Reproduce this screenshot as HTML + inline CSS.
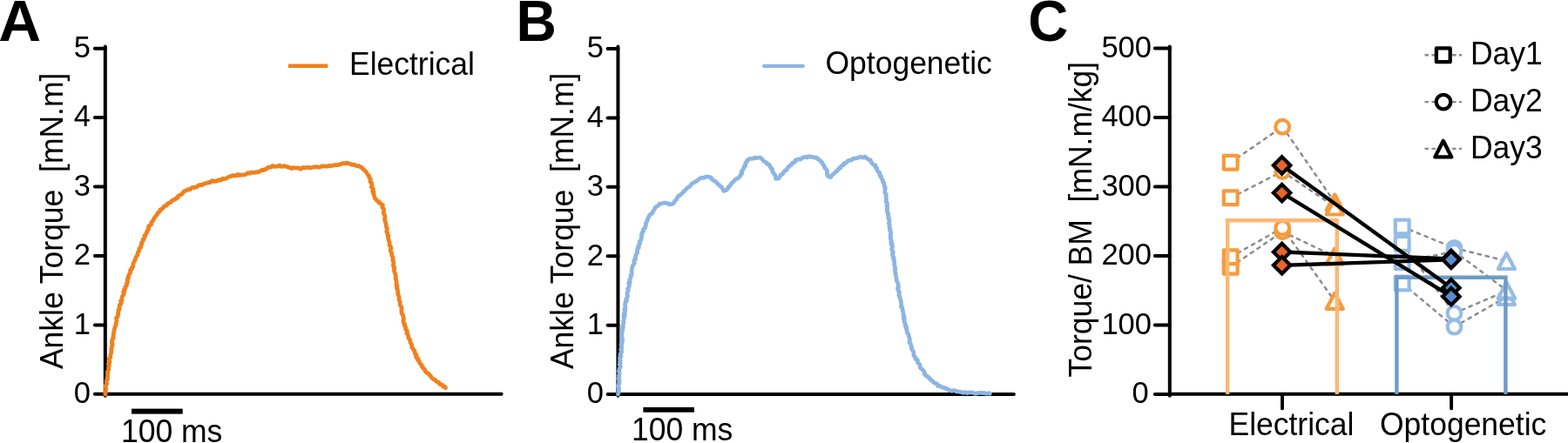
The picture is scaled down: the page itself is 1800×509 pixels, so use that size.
<!DOCTYPE html>
<html><head><meta charset="utf-8"><title>Figure</title>
<style>html,body{margin:0;padding:0;background:#fff;width:1800px;height:509px;overflow:hidden}svg{display:block}</style>
</head><body>
<svg width="1800" height="509" viewBox="0 0 1800 509" font-family='"Liberation Sans", Arial, Helvetica, sans-serif'>
<rect width="1800" height="509" fill="#fff"/>
<text transform="translate(-1.7,47.4) scale(1.01,1.0)" font-size="67" font-weight="bold" xml:space="preserve">A</text>
<text transform="translate(592.4,47.2) scale(0.959,1.0)" font-size="67" font-weight="bold" xml:space="preserve">B</text>
<text transform="translate(1180.3,47.4) scale(0.951,1.0)" font-size="67" font-weight="bold" xml:space="preserve">C</text>
<line x1="120.8" y1="53.6" x2="120.8" y2="454.7" stroke="#000" stroke-width="4.0" stroke-linecap="round"/>
<line x1="108.9" y1="452.80" x2="120.8" y2="452.80" stroke="#000" stroke-width="4.0" stroke-linecap="round"/>
<text x="103.9" y="463.0" font-size="34.5" text-anchor="end">0</text>
<line x1="108.9" y1="373.38" x2="120.8" y2="373.38" stroke="#000" stroke-width="4.0" stroke-linecap="round"/>
<text x="103.9" y="383.6" font-size="34.5" text-anchor="end">1</text>
<line x1="108.9" y1="293.96" x2="120.8" y2="293.96" stroke="#000" stroke-width="4.0" stroke-linecap="round"/>
<text x="103.9" y="304.2" font-size="34.5" text-anchor="end">2</text>
<line x1="108.9" y1="214.54" x2="120.8" y2="214.54" stroke="#000" stroke-width="4.0" stroke-linecap="round"/>
<text x="103.9" y="224.7" font-size="34.5" text-anchor="end">3</text>
<line x1="108.9" y1="135.12" x2="120.8" y2="135.12" stroke="#000" stroke-width="4.0" stroke-linecap="round"/>
<text x="103.9" y="145.3" font-size="34.5" text-anchor="end">4</text>
<line x1="108.9" y1="55.70" x2="120.8" y2="55.70" stroke="#000" stroke-width="4.0" stroke-linecap="round"/>
<text x="103.9" y="65.9" font-size="34.5" text-anchor="end">5</text>
<line x1="120.8" y1="452.8" x2="575.6" y2="452.8" stroke="#000" stroke-width="4.0" stroke-linecap="round"/>
<rect x="151" y="469.6" width="58.7" height="6" fill="#000"/>
<text transform="translate(139,507.6) scale(1.0,1.044)" font-size="35.5" xml:space="preserve">100 ms</text>
<line x1="331" y1="75.8" x2="376.3" y2="75.8" stroke="#F0801E" stroke-width="4.6"/>
<text transform="translate(401,85.9) scale(1.0,1.044)" font-size="35.5" xml:space="preserve">Electrical</text>
<text transform="translate(72.2,253.9) rotate(-90) scale(1.0,1.044)" font-size="35.5" text-anchor="middle" xml:space="preserve">Ankle Torque  [mN.m]</text>
<path d="M121.0,453.0 L120.7,452.0 L121.3,450.9 L121.1,449.6 L121.7,448.1 L121.9,446.5 L121.1,444.6 L121.3,442.8 L122.8,441.1 L122.0,439.2 L122.2,437.3 L123.6,435.7 L123.0,433.9 L123.7,432.4 L123.4,430.7 L123.8,429.1 L123.3,427.4 L124.3,425.9 L124.9,424.5 L124.6,422.8 L125.1,421.3 L125.3,419.8 L124.5,418.1 L125.9,416.8 L125.8,415.2 L125.6,413.6 L125.4,411.9 L126.9,410.5 L126.5,408.9 L127.1,407.3 L127.6,405.8 L127.6,404.1 L128.1,402.6 L127.5,400.9 L128.4,399.5 L128.1,397.9 L129.1,396.5 L129.2,395.0 L128.2,393.1 L128.6,391.4 L129.0,389.7 L130.4,388.3 L129.9,386.5 L130.4,384.9 L130.2,383.3 L130.8,381.8 L130.9,380.3 L131.1,378.8 L131.7,377.2 L132.0,375.7 L132.8,374.3 L132.7,372.8 L133.4,371.4 L133.5,369.9 L134.0,368.6 L133.8,367.0 L133.4,365.4 L134.8,364.1 L135.3,362.7 L135.6,361.2 L135.5,359.6 L136.1,358.1 L135.7,356.4 L137.1,355.2 L137.1,353.6 L137.1,352.0 L137.2,350.4 L138.8,349.3 L139.4,347.9 L138.5,346.0 L140.1,344.8 L139.9,343.1 L140.0,341.5 L140.6,340.1 L141.8,338.8 L142.4,337.4 L141.6,335.5 L142.9,334.2 L142.5,332.5 L144.0,331.3 L143.8,329.6 L145.1,328.4 L145.7,327.0 L145.4,325.3 L146.7,324.0 L146.1,322.1 L146.3,320.4 L147.6,319.2 L147.2,317.4 L148.0,315.9 L148.8,314.5 L149.7,313.1 L149.5,311.5 L149.7,310.1 L151.4,309.2 L151.1,307.6 L152.5,306.6 L152.9,305.1 L152.7,303.4 L153.4,301.9 L154.1,300.3 L154.9,299.1 L155.4,297.6 L156.0,296.1 L156.7,294.6 L157.9,293.3 L157.9,291.4 L158.5,289.8 L159.6,288.4 L159.6,286.5 L160.3,285.1 L161.9,284.1 L161.8,282.5 L162.6,280.9 L162.4,279.0 L163.6,277.8 L164.4,276.5 L164.2,274.8 L165.6,273.8 L166.2,272.5 L165.9,270.8 L167.3,269.9 L167.7,268.3 L168.7,267.0 L168.8,265.3 L170.0,264.2 L170.7,262.8 L170.3,260.9 L171.1,259.6 L172.6,258.7 L173.9,257.5 L173.7,255.5 L174.9,254.3 L176.0,253.0 L176.5,251.4 L177.5,250.1 L178.4,248.7 L179.4,247.5 L180.6,246.3 L181.2,244.7 L182.3,243.5 L183.8,242.7 L184.0,240.7 L185.7,240.2 L187.1,239.2 L188.0,237.6 L189.2,236.5 L191.1,236.3 L192.0,234.6 L193.3,233.5 L194.8,232.9 L196.2,232.4 L197.0,230.8 L198.4,230.2 L199.7,229.3 L201.4,229.1 L202.3,227.6 L204.0,227.2 L204.6,225.3 L206.0,224.4 L207.6,223.7 L209.1,222.9 L209.9,221.4 L211.0,220.2 L212.4,219.2 L214.1,218.9 L215.3,217.7 L217.2,217.9 L218.7,217.3 L219.9,215.7 L221.4,215.3 L223.2,215.6 L224.6,214.9 L226.2,214.6 L227.5,213.4 L229.0,212.6 L230.6,212.4 L232.4,212.6 L233.6,211.3 L235.2,210.9 L236.7,210.5 L238.2,209.9 L239.7,209.4 L241.5,209.7 L242.7,208.1 L244.2,207.5 L246.2,208.6 L247.7,208.1 L249.3,207.9 L250.6,206.7 L252.1,207.2 L254.0,206.7 L255.4,205.2 L257.2,205.6 L259.0,205.2 L260.2,204.6 L261.4,204.0 L262.6,203.2 L264.0,202.8 L265.6,202.2 L267.5,201.5 L268.9,202.1 L270.3,201.3 L271.9,201.9 L273.3,200.4 L275.2,201.5 L276.8,200.9 L278.6,201.0 L280.3,200.7 L281.9,200.4 L283.3,199.6 L284.8,198.5 L286.7,199.3 L288.2,198.2 L289.9,198.1 L291.6,198.4 L293.1,198.0 L294.6,197.5 L296.2,198.0 L297.4,197.2 L299.2,196.2 L300.8,195.4 L302.8,195.7 L304.0,194.5 L305.6,194.3 L306.8,193.1 L308.3,192.2 L310.0,192.1 L311.6,191.9 L312.8,190.5 L314.8,191.2 L316.1,191.3 L317.6,191.1 L319.1,191.1 L320.8,189.9 L322.3,191.0 L324.0,191.6 L325.8,190.5 L327.3,191.1 L328.8,191.4 L330.3,192.1 L331.9,192.4 L333.5,192.8 L335.0,193.6 L336.8,192.6 L338.3,192.9 L339.9,193.1 L341.4,193.0 L342.9,192.8 L344.6,194.2 L346.1,193.8 L347.6,192.4 L349.3,192.9 L350.9,192.5 L352.4,192.4 L354.0,192.4 L355.6,192.8 L357.2,192.6 L358.9,192.2 L360.4,191.8 L362.0,191.9 L363.5,191.5 L365.0,192.1 L366.8,192.2 L368.3,191.5 L369.8,190.8 L371.3,190.8 L372.8,190.9 L374.4,191.1 L376.1,191.1 L377.5,190.3 L379.2,190.8 L380.8,190.4 L382.5,189.9 L384.1,189.6 L385.7,189.6 L387.3,189.7 L388.6,189.1 L390.5,189.1 L391.9,188.3 L393.2,187.6 L394.8,187.7 L396.5,187.9 L398.1,187.0 L399.8,187.8 L401.6,188.0 L403.3,189.1 L405.0,189.5 L406.9,189.0 L408.1,190.2 L410.2,190.7 L412.2,190.7 L413.6,191.9 L415.3,192.3 L416.2,194.0 L417.6,194.6 L418.5,195.8 L419.7,196.9 L420.7,198.0 L421.4,199.5 L422.4,200.9 L423.8,202.3 L423.8,204.2 L425.2,205.4 L425.4,206.9 L424.9,208.7 L426.4,210.0 L426.7,211.5 L427.1,213.0 L426.3,214.9 L427.8,216.1 L428.5,217.6 L427.6,219.5 L429.2,220.6 L428.5,222.3 L429.4,224.0 L429.7,225.8 L430.2,227.4 L431.5,228.6 L432.4,230.6 L434.7,231.3 L435.2,233.5 L437.1,233.7 L438.2,235.0 L439.5,235.6 L438.9,237.2 L438.9,238.7 L440.6,240.1 L440.5,242.0 L440.4,243.8 L440.2,245.3 L441.4,246.6 L441.8,248.2 L441.9,249.9 L441.6,251.6 L441.6,253.3 L442.5,254.9 L442.8,256.5 L443.1,258.1 L443.4,259.7 L443.6,261.3 L444.5,262.8 L444.1,264.5 L443.7,266.3 L444.9,267.7 L444.7,269.4 L446.0,270.8 L445.4,272.5 L445.7,274.1 L446.1,275.7 L446.7,277.2 L447.1,278.8 L447.2,280.5 L447.1,282.1 L448.6,283.5 L449.0,285.1 L448.3,286.9 L448.3,288.6 L449.3,290.0 L449.7,291.6 L449.6,293.3 L450.7,294.7 L450.9,296.3 L451.2,297.7 L450.9,299.3 L451.6,300.7 L452.0,302.1 L451.6,303.8 L451.4,305.4 L452.7,306.9 L452.3,308.5 L452.9,309.8 L452.4,311.4 L453.1,312.9 L453.8,314.4 L454.0,316.0 L454.6,317.5 L454.1,319.2 L454.4,320.8 L455.0,322.3 L455.0,324.0 L455.3,325.5 L454.9,327.3 L456.2,328.7 L455.2,330.6 L456.3,332.1 L456.4,333.8 L456.9,335.3 L456.7,337.1 L457.0,338.7 L457.7,340.2 L458.2,341.8 L458.1,343.5 L458.2,345.2 L459.3,346.6 L459.1,348.3 L459.1,350.0 L460.2,351.5 L460.9,353.0 L461.2,354.6 L460.7,356.2 L461.1,357.7 L460.9,359.2 L461.3,360.7 L462.6,362.0 L462.9,363.4 L463.1,364.9 L463.5,366.4 L463.0,368.0 L463.1,369.6 L463.4,371.1 L464.7,372.3 L464.2,374.0 L465.4,375.2 L465.7,376.8 L465.6,378.4 L467.0,379.5 L467.5,381.0 L466.8,382.8 L468.1,384.1 L468.5,385.6 L468.7,387.1 L469.1,388.7 L470.6,389.8 L470.7,391.5 L471.1,393.1 L471.7,394.6 L472.7,396.0 L472.7,397.7 L472.8,399.4 L474.3,400.5 L474.6,402.0 L475.9,403.1 L476.3,404.7 L476.5,406.5 L478.0,407.7 L477.5,409.7 L478.2,411.1 L480.1,411.9 L479.6,413.9 L481.2,414.8 L481.4,416.5 L482.3,417.9 L483.8,418.8 L484.1,420.5 L485.1,421.8 L485.8,423.2 L487.4,423.9 L487.7,425.6 L488.4,427.0 L489.7,427.8 L491.0,429.0 L492.7,429.8 L493.4,431.4 L494.7,432.4 L495.4,433.9 L496.7,434.9 L497.9,435.8 L499.7,436.4 L500.7,438.1 L502.1,439.0 L503.9,439.4 L504.6,441.2 L506.0,441.7 L508.1,442.3 L508.9,444.5 L510.9,444.4 L511.5,445.6" fill="none" stroke="#F0801E" stroke-width="4.7" stroke-linejoin="round" stroke-linecap="round"/>
<line x1="709.45" y1="53.6" x2="709.45" y2="454.7" stroke="#000" stroke-width="4.0" stroke-linecap="round"/>
<line x1="697.6" y1="453.10" x2="709.45" y2="453.10" stroke="#000" stroke-width="4.0" stroke-linecap="round"/>
<text x="692.9" y="463.3" font-size="34.5" text-anchor="end">0</text>
<line x1="697.6" y1="373.69" x2="709.45" y2="373.69" stroke="#000" stroke-width="4.0" stroke-linecap="round"/>
<text x="692.9" y="383.9" font-size="34.5" text-anchor="end">1</text>
<line x1="697.6" y1="294.28" x2="709.45" y2="294.28" stroke="#000" stroke-width="4.0" stroke-linecap="round"/>
<text x="692.9" y="304.5" font-size="34.5" text-anchor="end">2</text>
<line x1="697.6" y1="214.87" x2="709.45" y2="214.87" stroke="#000" stroke-width="4.0" stroke-linecap="round"/>
<text x="692.9" y="225.1" font-size="34.5" text-anchor="end">3</text>
<line x1="697.6" y1="135.46" x2="709.45" y2="135.46" stroke="#000" stroke-width="4.0" stroke-linecap="round"/>
<text x="692.9" y="145.7" font-size="34.5" text-anchor="end">4</text>
<line x1="697.6" y1="56.05" x2="709.45" y2="56.05" stroke="#000" stroke-width="4.0" stroke-linecap="round"/>
<text x="692.9" y="66.3" font-size="34.5" text-anchor="end">5</text>
<line x1="709.45" y1="453.1" x2="1163.9" y2="453.1" stroke="#000" stroke-width="4.0" stroke-linecap="round"/>
<rect x="738.4" y="467.9" width="58.6" height="5.8" fill="#000"/>
<text transform="translate(725,506) scale(1.0,1.044)" font-size="35.5" xml:space="preserve">100 ms</text>
<line x1="877" y1="75.8" x2="921.8" y2="75.8" stroke="#8DB5E2" stroke-width="4.3" stroke-linecap="round"/>
<text transform="translate(947.5,85.3) scale(1.0,1.044)" font-size="35.5" xml:space="preserve">Optogenetic</text>
<text transform="translate(658.2,253.9) rotate(-90) scale(1.0,1.044)" font-size="35.5" text-anchor="middle" xml:space="preserve">Ankle Torque  [mN.m]</text>
<path d="M709.5,453.0 L709.8,452.1 L710.0,451.1 L710.2,449.9 L710.5,448.6 L710.3,447.2 L710.6,445.6 L709.3,443.9 L710.1,442.3 L711.0,440.5 L710.6,438.7 L711.2,436.9 L710.0,435.0 L710.7,433.3 L710.5,431.5 L711.1,429.8 L711.2,428.1 L710.4,426.4 L710.9,424.9 L711.1,423.4 L712.2,421.9 L712.1,420.4 L711.2,418.8 L712.3,417.3 L711.4,415.7 L712.3,414.2 L711.6,412.6 L711.5,411.1 L713.0,409.6 L712.0,408.0 L712.2,406.5 L713.5,405.1 L713.5,403.5 L712.6,401.9 L713.8,400.5 L713.3,398.9 L713.6,397.3 L713.0,395.7 L714.3,394.3 L714.0,392.7 L714.6,391.1 L714.6,389.6 L713.8,387.9 L714.0,386.4 L713.8,384.8 L713.9,383.3 L713.9,381.7 L714.4,380.2 L715.0,378.8 L714.2,377.2 L715.4,375.9 L715.0,374.4 L715.2,372.8 L716.1,371.3 L715.8,369.6 L715.7,368.0 L716.1,366.5 L716.6,365.0 L715.8,363.4 L717.4,362.1 L716.1,360.4 L717.4,359.1 L717.7,357.7 L716.6,356.1 L718.0,354.8 L717.5,353.3 L718.0,352.0 L717.4,350.2 L717.7,348.6 L718.1,347.0 L719.6,345.6 L718.6,343.9 L719.7,342.5 L720.3,341.1 L720.5,339.6 L719.8,337.9 L720.1,336.4 L720.7,334.9 L721.3,333.5 L720.6,331.7 L721.9,330.3 L722.2,328.7 L722.6,327.2 L721.6,325.3 L723.4,324.0 L722.4,322.2 L723.1,320.7 L723.8,319.2 L724.6,317.8 L724.0,316.1 L725.3,314.8 L725.1,313.0 L725.1,311.3 L725.5,309.7 L725.6,308.1 L725.9,306.5 L726.4,305.0 L727.6,303.7 L728.5,302.3 L727.7,300.4 L727.9,298.8 L729.7,297.8 L729.5,296.1 L729.7,294.6 L729.8,293.1 L730.8,291.8 L731.6,290.4 L731.4,288.8 L731.8,287.3 L731.7,285.7 L733.4,284.6 L732.5,282.8 L733.6,281.4 L734.6,279.9 L734.0,277.9 L735.4,276.5 L736.2,275.0 L736.1,273.2 L736.8,271.7 L736.2,270.0 L737.1,268.7 L737.1,267.3 L738.7,265.8 L738.4,264.0 L739.2,262.7 L740.5,261.8 L740.7,260.5 L741.4,259.3 L741.3,257.3 L741.9,255.8 L742.9,254.3 L743.2,252.6 L743.6,251.0 L744.7,249.4 L745.3,247.6 L746.6,246.2 L748.4,245.4 L749.3,244.1 L749.9,242.6 L750.7,241.3 L751.5,240.0 L752.2,238.5 L753.4,237.4 L755.0,236.7 L756.1,235.9 L757.1,234.2 L759.0,234.0 L760.5,233.5 L762.0,233.2 L763.5,233.1 L765.0,233.5 L766.8,233.6 L768.2,235.0 L769.8,234.7 L771.2,234.6 L772.8,233.9 L774.0,232.5 L774.6,230.7 L776.4,229.6 L777.1,227.8 L778.0,226.7 L778.7,225.1 L780.4,224.8 L781.3,223.4 L783.0,222.5 L783.9,220.8 L785.6,219.7 L786.5,218.3 L787.9,217.3 L788.7,215.9 L790.5,215.2 L791.8,214.1 L793.1,212.9 L794.0,210.9 L796.0,210.2 L797.2,209.4 L798.3,208.4 L799.8,207.9 L801.1,207.1 L802.2,205.8 L803.6,205.1 L804.9,204.0 L807.0,204.4 L808.7,204.1 L810.2,203.0 L811.7,203.1 L812.9,203.0 L814.6,203.6 L816.4,204.0 L817.4,206.2 L818.8,206.9 L820.0,208.0 L821.7,208.7 L822.9,210.1 L824.1,211.4 L825.4,212.3 L826.6,213.9 L828.6,215.1 L829.5,216.8 L830.1,218.4 L831.0,219.4 L832.3,218.6 L834.0,218.4 L835.3,216.9 L836.1,214.8 L837.6,214.3 L838.3,212.8 L839.2,211.4 L840.3,210.2 L841.6,209.1 L842.5,207.8 L843.9,206.7 L845.1,205.5 L846.8,205.1 L847.9,203.9 L849.3,202.8 L850.1,201.6 L850.3,200.1 L851.9,199.2 L851.2,197.2 L852.5,196.0 L852.9,194.5 L853.8,193.2 L854.0,191.6 L855.7,190.6 L855.6,188.8 L855.8,187.1 L857.3,186.2 L857.3,184.5 L858.7,184.0 L859.9,182.5 L861.6,182.2 L863.3,182.5 L865.0,182.0 L866.4,181.1 L868.0,181.6 L869.6,181.3 L871.2,181.0 L872.9,181.0 L874.0,182.2 L875.3,183.0 L876.1,184.5 L877.3,185.6 L878.9,186.3 L880.2,187.0 L880.7,188.7 L882.8,188.9 L883.8,190.3 L884.3,192.0 L885.1,193.4 L886.6,194.3 L886.6,196.1 L887.0,197.8 L888.4,199.0 L889.0,200.4 L889.9,201.5 L890.3,202.5 L890.6,205.4 L892.4,204.9 L893.7,205.1 L894.7,204.0 L895.5,202.5 L896.3,200.7 L898.5,200.1 L898.9,198.6 L899.9,197.4 L900.9,196.1 L902.8,195.7 L903.4,194.0 L904.3,192.6 L905.7,191.7 L906.4,190.2 L908.1,189.6 L909.0,188.3 L910.0,187.1 L911.6,186.7 L912.8,185.8 L913.2,183.9 L915.2,183.7 L916.6,182.7 L918.6,183.1 L920.1,182.4 L921.4,181.1 L923.0,180.7 L924.5,180.1 L926.3,181.0 L927.7,179.7 L929.3,180.1 L930.9,179.9 L932.5,180.4 L934.1,180.6 L935.6,181.2 L937.5,181.0 L938.4,182.7 L940.1,183.1 L941.1,184.5 L942.6,185.5 L943.8,186.8 L944.3,188.2 L945.3,189.4 L946.2,190.6 L946.4,192.3 L947.4,193.6 L948.9,194.6 L949.2,196.3 L949.6,198.2 L949.5,200.2 L950.1,201.8 L951.3,202.9 L952.3,202.7 L953.5,203.7 L954.5,202.1 L956.1,200.5 L957.8,199.0 L958.8,198.1 L959.7,196.9 L961.3,196.3 L962.0,194.6 L963.2,193.6 L964.8,193.1 L965.2,191.3 L966.6,190.2 L968.4,189.7 L968.7,187.7 L970.7,187.6 L971.9,186.5 L973.0,185.2 L974.4,184.2 L976.2,184.2 L977.9,183.8 L979.4,182.1 L981.0,182.2 L982.6,181.9 L984.2,181.5 L985.9,180.9 L987.5,180.3 L989.3,180.8 L990.8,181.1 L992.3,180.0 L993.9,180.7 L995.0,182.1 L996.2,182.8 L997.5,183.6 L999.3,183.8 L999.8,185.7 L1000.6,187.0 L1001.7,188.3 L1003.1,189.3 L1005.0,190.0 L1004.9,192.2 L1006.7,193.1 L1006.9,194.7 L1007.1,196.2 L1008.2,197.3 L1009.6,198.2 L1010.1,199.7 L1009.8,201.5 L1011.5,202.5 L1011.5,204.2 L1012.4,205.6 L1013.4,206.9 L1013.3,208.7 L1014.7,210.0 L1015.1,211.8 L1015.2,213.7 L1016.0,215.0 L1016.3,216.5 L1015.8,218.2 L1015.8,219.8 L1015.8,221.4 L1017.2,222.9 L1017.0,224.6 L1017.4,226.2 L1017.1,227.9 L1017.5,229.5 L1017.0,231.2 L1018.1,232.8 L1018.7,234.5 L1017.9,236.4 L1018.9,238.0 L1018.3,239.7 L1018.6,241.1 L1018.1,242.5 L1018.8,243.6 L1019.0,245.0 L1019.7,245.0 L1019.7,248.3 L1020.3,249.2 L1019.6,250.3 L1020.1,251.4 L1020.9,252.5 L1020.9,253.8 L1020.8,255.2 L1020.4,256.7 L1021.4,258.2 L1020.8,259.8 L1021.0,261.4 L1022.1,263.0 L1021.4,264.7 L1022.5,266.3 L1022.6,268.0 L1022.1,269.8 L1022.8,271.5 L1022.0,273.3 L1022.8,274.9 L1023.3,276.5 L1022.7,278.2 L1024.2,279.7 L1023.2,281.3 L1024.5,282.7 L1024.5,284.2 L1023.5,285.9 L1024.1,287.4 L1025.0,288.8 L1025.4,290.2 L1024.2,291.9 L1024.9,293.4 L1024.9,294.9 L1026.2,296.3 L1025.6,297.9 L1026.3,299.3 L1026.7,300.8 L1026.7,302.3 L1026.5,303.9 L1027.2,305.3 L1027.3,306.9 L1027.9,308.3 L1027.1,310.0 L1027.6,311.4 L1027.6,313.0 L1028.4,314.4 L1028.0,316.0 L1028.8,317.4 L1028.9,319.0 L1029.2,320.5 L1029.1,322.1 L1029.9,323.5 L1030.7,325.0 L1031.0,326.5 L1031.0,328.1 L1031.5,329.5 L1030.4,331.3 L1031.4,332.7 L1031.2,334.3 L1032.6,335.6 L1032.2,337.2 L1031.8,338.9 L1032.5,340.3 L1033.0,341.7 L1033.2,343.1 L1034.1,344.5 L1034.3,345.9 L1034.5,347.3 L1034.5,349.0 L1034.8,350.6 L1034.3,352.3 L1035.8,353.6 L1035.9,355.2 L1036.2,356.7 L1036.7,358.2 L1036.8,359.7 L1037.2,361.2 L1037.1,362.7 L1038.2,364.0 L1037.1,365.8 L1038.3,367.0 L1037.7,368.7 L1038.5,370.0 L1038.8,371.5 L1039.5,372.8 L1039.1,374.4 L1040.7,375.6 L1040.2,377.4 L1041.2,378.9 L1041.0,380.6 L1041.4,382.3 L1042.7,383.7 L1043.0,385.4 L1043.7,386.9 L1043.8,388.6 L1044.5,390.2 L1044.4,391.9 L1044.0,393.6 L1045.3,394.9 L1045.8,396.3 L1046.0,397.8 L1046.7,399.1 L1046.4,400.6 L1046.9,401.8 L1048.4,403.5 L1048.9,405.2 L1048.9,407.1 L1049.1,408.7 L1050.1,409.9 L1051.1,411.0 L1050.9,412.7 L1053.0,413.3 L1053.6,414.7 L1053.4,416.7 L1054.7,417.8 L1056.0,418.9 L1056.1,420.8 L1056.3,422.6 L1057.9,423.7 L1059.0,425.0 L1060.2,426.1 L1061.2,427.5 L1061.0,429.6 L1062.5,430.4 L1062.9,432.0 L1065.1,432.5 L1066.0,433.9 L1067.4,434.8 L1068.2,436.4 L1069.7,437.0 L1070.7,438.2 L1071.8,439.4 L1073.2,440.1 L1074.8,440.7 L1076.0,441.4 L1076.6,443.5 L1078.5,443.1 L1079.7,444.2 L1081.1,444.7 L1082.5,445.5 L1084.1,445.4 L1085.4,446.3 L1086.9,446.4 L1088.1,447.6 L1089.4,448.6 L1091.1,448.5 L1092.6,449.3 L1094.3,448.6 L1095.9,448.5 L1097.3,449.6 L1098.8,449.7 L1100.3,450.1 L1101.9,450.0 L1103.4,450.6 L1104.8,451.0 L1106.2,451.4 L1107.7,450.6 L1109.1,451.0 L1110.6,451.8 L1112.2,450.9 L1113.9,450.9 L1115.7,451.3 L1117.2,451.0 L1118.7,452.2 L1120.4,452.3 L1122.2,451.6 L1124.1,451.4 L1126.0,451.3 L1127.8,451.7 L1129.6,451.4 L1131.3,452.0 L1132.8,452.3 L1134.2,451.8 L1135.4,451.6 L1136.3,452.3" fill="none" stroke="#8DB5E2" stroke-width="4.7" stroke-linejoin="round" stroke-linecap="round"/>
<line x1="1342.8" y1="53.6" x2="1342.8" y2="454.7" stroke="#000" stroke-width="4.0" stroke-linecap="round"/>
<line x1="1325.8" y1="452.90" x2="1342.8" y2="452.90" stroke="#000" stroke-width="4.0" stroke-linecap="round"/>
<text x="1318.7" y="463.1" font-size="34.5" text-anchor="end">0</text>
<line x1="1325.8" y1="373.42" x2="1342.8" y2="373.42" stroke="#000" stroke-width="4.0" stroke-linecap="round"/>
<text x="1322.0" y="383.6" font-size="34.5" text-anchor="end">100</text>
<line x1="1325.8" y1="293.94" x2="1342.8" y2="293.94" stroke="#000" stroke-width="4.0" stroke-linecap="round"/>
<text x="1322.0" y="304.1" font-size="34.5" text-anchor="end">200</text>
<line x1="1325.8" y1="214.46" x2="1342.8" y2="214.46" stroke="#000" stroke-width="4.0" stroke-linecap="round"/>
<text x="1322.0" y="224.7" font-size="34.5" text-anchor="end">300</text>
<line x1="1325.8" y1="134.98" x2="1342.8" y2="134.98" stroke="#000" stroke-width="4.0" stroke-linecap="round"/>
<text x="1322.0" y="145.2" font-size="34.5" text-anchor="end">400</text>
<line x1="1325.8" y1="55.50" x2="1342.8" y2="55.50" stroke="#000" stroke-width="4.0" stroke-linecap="round"/>
<text x="1322.0" y="65.7" font-size="34.5" text-anchor="end">500</text>
<line x1="1342.8" y1="452.8" x2="1802" y2="452.8" stroke="#000" stroke-width="4.0" stroke-linecap="round"/>
<line x1="1472.0" y1="452.8" x2="1472.0" y2="469.4" stroke="#000" stroke-width="3.9" stroke-linecap="round"/>
<line x1="1666.1" y1="452.8" x2="1666.1" y2="469.4" stroke="#000" stroke-width="3.9" stroke-linecap="round"/>
<text transform="translate(1410.5,500.3) scale(1.0,1.044)" font-size="35.5" xml:space="preserve">Electrical</text>
<text transform="translate(1584,500.3) scale(1.0,1.044)" font-size="35.5" xml:space="preserve">Optogenetic</text>
<text transform="translate(1253,252.2) rotate(-90) scale(1.0,1.044)" font-size="35.5" text-anchor="middle" xml:space="preserve">Torque/ BM  [mN.m/kg]</text>
<line x1="1412.7" y1="186.7" x2="1472.2" y2="145.7" stroke="#8C8C8C" stroke-width="2.5" stroke-dasharray="3.4 5.9" stroke-linecap="round"/>
<line x1="1472.2" y1="145.7" x2="1532.2" y2="232.5" stroke="#8C8C8C" stroke-width="2.5" stroke-dasharray="3.4 5.9" stroke-linecap="round"/>
<line x1="1412.7" y1="227.3" x2="1472.2" y2="197.0" stroke="#8C8C8C" stroke-width="2.5" stroke-dasharray="3.4 5.9" stroke-linecap="round"/>
<line x1="1472.2" y1="197.0" x2="1532.2" y2="237.5" stroke="#8C8C8C" stroke-width="2.5" stroke-dasharray="3.4 5.9" stroke-linecap="round"/>
<line x1="1412.7" y1="306.8" x2="1472.2" y2="266.2" stroke="#8C8C8C" stroke-width="2.5" stroke-dasharray="3.4 5.9" stroke-linecap="round"/>
<line x1="1472.2" y1="266.2" x2="1532.2" y2="294.6" stroke="#8C8C8C" stroke-width="2.5" stroke-dasharray="3.4 5.9" stroke-linecap="round"/>
<line x1="1412.7" y1="295.3" x2="1472.2" y2="261.8" stroke="#8C8C8C" stroke-width="2.5" stroke-dasharray="3.4 5.9" stroke-linecap="round"/>
<line x1="1472.2" y1="261.8" x2="1532.2" y2="345.8" stroke="#8C8C8C" stroke-width="2.5" stroke-dasharray="3.4 5.9" stroke-linecap="round"/>
<line x1="1609.7" y1="260.5" x2="1669.5" y2="284.9" stroke="#8C8C8C" stroke-width="2.5" stroke-dasharray="3.4 5.9" stroke-linecap="round"/>
<line x1="1669.5" y1="284.9" x2="1729.4" y2="300.0" stroke="#8C8C8C" stroke-width="2.5" stroke-dasharray="3.4 5.9" stroke-linecap="round"/>
<line x1="1609.7" y1="301.2" x2="1669.5" y2="288.8" stroke="#8C8C8C" stroke-width="2.5" stroke-dasharray="3.4 5.9" stroke-linecap="round"/>
<line x1="1669.5" y1="288.8" x2="1729.4" y2="333.5" stroke="#8C8C8C" stroke-width="2.5" stroke-dasharray="3.4 5.9" stroke-linecap="round"/>
<line x1="1609.7" y1="279.9" x2="1669.5" y2="359.8" stroke="#8C8C8C" stroke-width="2.5" stroke-dasharray="3.4 5.9" stroke-linecap="round"/>
<line x1="1669.5" y1="359.8" x2="1729.4" y2="334.3" stroke="#8C8C8C" stroke-width="2.5" stroke-dasharray="3.4 5.9" stroke-linecap="round"/>
<line x1="1609.7" y1="325.5" x2="1669.5" y2="375.6" stroke="#8C8C8C" stroke-width="2.5" stroke-dasharray="3.4 5.9" stroke-linecap="round"/>
<line x1="1669.5" y1="375.6" x2="1729.4" y2="341.0" stroke="#8C8C8C" stroke-width="2.5" stroke-dasharray="3.4 5.9" stroke-linecap="round"/>
<rect x="1404.8" y="178.8" width="15.8" height="15.8" fill="#fff" stroke="#F59B3C" stroke-width="4.2" stroke-linejoin="round"/>
<rect x="1404.8" y="219.4" width="15.8" height="15.8" fill="#fff" stroke="#F59B3C" stroke-width="4.2" stroke-linejoin="round"/>
<rect x="1404.8" y="298.9" width="15.8" height="15.8" fill="#fff" stroke="#F59B3C" stroke-width="4.2" stroke-linejoin="round"/>
<rect x="1404.8" y="287.4" width="15.8" height="15.8" fill="#fff" stroke="#F59B3C" stroke-width="4.2" stroke-linejoin="round"/>
<circle cx="1472.2" cy="145.7" r="7.9" fill="#fff" stroke="#F59B3C" stroke-width="4.2"/>
<circle cx="1472.2" cy="197.0" r="7.9" fill="#fff" stroke="#F59B3C" stroke-width="4.2"/>
<circle cx="1472.2" cy="266.2" r="7.9" fill="#fff" stroke="#F59B3C" stroke-width="4.2"/>
<circle cx="1472.2" cy="261.8" r="7.9" fill="#fff" stroke="#F59B3C" stroke-width="4.2"/>
<path d="M1532.2,223.5 L1541.7,241.5 L1522.7,241.5 Z" fill="#fff" stroke="#F59B3C" stroke-width="4.2" stroke-linejoin="round"/>
<path d="M1532.2,228.5 L1541.7,246.5 L1522.7,246.5 Z" fill="#fff" stroke="#F59B3C" stroke-width="4.2" stroke-linejoin="round"/>
<path d="M1532.2,285.6 L1541.7,303.6 L1522.7,303.6 Z" fill="#fff" stroke="#F59B3C" stroke-width="4.2" stroke-linejoin="round"/>
<path d="M1532.2,336.8 L1541.7,354.8 L1522.7,354.8 Z" fill="#fff" stroke="#F59B3C" stroke-width="4.2" stroke-linejoin="round"/>
<rect x="1601.8" y="252.6" width="15.8" height="15.8" fill="#fff" stroke="#96BBE6" stroke-width="4.2" stroke-linejoin="round"/>
<rect x="1601.8" y="293.3" width="15.8" height="15.8" fill="#fff" stroke="#96BBE6" stroke-width="4.2" stroke-linejoin="round"/>
<rect x="1601.8" y="272.0" width="15.8" height="15.8" fill="#fff" stroke="#96BBE6" stroke-width="4.2" stroke-linejoin="round"/>
<rect x="1601.8" y="317.6" width="15.8" height="15.8" fill="#fff" stroke="#96BBE6" stroke-width="4.2" stroke-linejoin="round"/>
<circle cx="1669.5" cy="284.9" r="7.9" fill="#fff" stroke="#96BBE6" stroke-width="4.2"/>
<circle cx="1669.5" cy="288.8" r="7.9" fill="#fff" stroke="#96BBE6" stroke-width="4.2"/>
<circle cx="1669.5" cy="359.8" r="7.9" fill="#fff" stroke="#96BBE6" stroke-width="4.2"/>
<circle cx="1669.5" cy="375.6" r="7.9" fill="#fff" stroke="#96BBE6" stroke-width="4.2"/>
<path d="M1729.4,332.0 L1738.9,350.0 L1719.9,350.0 Z" fill="#fff" stroke="#96BBE6" stroke-width="4.2" stroke-linejoin="round"/>
<path d="M1729.4,325.3 L1738.9,343.3 L1719.9,343.3 Z" fill="#fff" stroke="#96BBE6" stroke-width="4.2" stroke-linejoin="round"/>
<path d="M1729.4,324.5 L1738.9,342.5 L1719.9,342.5 Z" fill="#fff" stroke="#96BBE6" stroke-width="4.2" stroke-linejoin="round"/>
<path d="M1729.4,291.0 L1738.9,309.0 L1719.9,309.0 Z" fill="#fff" stroke="#96BBE6" stroke-width="4.2" stroke-linejoin="round"/>
<path d="M1409.2,452.9 V253.3 H1534.8 V452.9" fill="none" stroke="#FAB973" stroke-width="4.4"/>
<path d="M1603.4,452.9 V318.7 H1728.4 V452.9" fill="none" stroke="#6E9BC8" stroke-width="4.4"/>
<line x1="1471.6" y1="190" x2="1665.9" y2="330.7" stroke="#000" stroke-width="4.3"/>
<line x1="1471.6" y1="221.6" x2="1665.9" y2="340.7" stroke="#000" stroke-width="4.3"/>
<line x1="1471.6" y1="289.5" x2="1665.9" y2="297.4" stroke="#000" stroke-width="4.3"/>
<line x1="1471.6" y1="304.8" x2="1665.9" y2="298.3" stroke="#000" stroke-width="4.3"/>
<path d="M1471.6,180.3 L1481.3,190.0 L1471.6,199.7 L1461.9,190.0 Z" fill="#EB6428" stroke="#000" stroke-width="4.2" stroke-linejoin="miter"/>
<path d="M1471.6,211.9 L1481.3,221.6 L1471.6,231.3 L1461.9,221.6 Z" fill="#EB6428" stroke="#000" stroke-width="4.2" stroke-linejoin="miter"/>
<path d="M1471.6,279.8 L1481.3,289.5 L1471.6,299.2 L1461.9,289.5 Z" fill="#EB6428" stroke="#000" stroke-width="4.2" stroke-linejoin="miter"/>
<path d="M1471.6,295.1 L1481.3,304.8 L1471.6,314.5 L1461.9,304.8 Z" fill="#EB6428" stroke="#000" stroke-width="4.2" stroke-linejoin="miter"/>
<path d="M1665.9,321.0 L1675.6,330.7 L1665.9,340.4 L1656.2,330.7 Z" fill="#5A8CD2" stroke="#000" stroke-width="4.2" stroke-linejoin="miter"/>
<path d="M1665.9,331.0 L1675.6,340.7 L1665.9,350.4 L1656.2,340.7 Z" fill="#5A8CD2" stroke="#000" stroke-width="4.2" stroke-linejoin="miter"/>
<path d="M1665.9,287.7 L1675.6,297.4 L1665.9,307.1 L1656.2,297.4 Z" fill="#5A8CD2" stroke="#000" stroke-width="4.2" stroke-linejoin="miter"/>
<path d="M1665.9,288.6 L1675.6,298.3 L1665.9,308.0 L1656.2,298.3 Z" fill="#5A8CD2" stroke="#000" stroke-width="4.2" stroke-linejoin="miter"/>
<line x1="1635.5" y1="63.3" x2="1678.1" y2="63.3" stroke="#8C8C8C" stroke-width="2.4" stroke-dasharray="4.5 3.4"/>
<rect x="1648.9" y="55.4" width="15.8" height="15.8" fill="#fff" stroke="#000" stroke-width="4.3" stroke-linejoin="round"/>
<text transform="translate(1688,74.4) scale(1.0,1.044)" font-size="35.5" xml:space="preserve">Day1</text>
<line x1="1635.5" y1="117.1" x2="1678.1" y2="117.1" stroke="#8C8C8C" stroke-width="2.4" stroke-dasharray="4.5 3.4"/>
<circle cx="1657.0" cy="117.1" r="8.3" fill="#fff" stroke="#000" stroke-width="4.3"/>
<text transform="translate(1688,128.2) scale(1.0,1.044)" font-size="35.5" xml:space="preserve">Day2</text>
<line x1="1635.5" y1="170.9" x2="1678.1" y2="170.9" stroke="#8C8C8C" stroke-width="2.4" stroke-dasharray="4.5 3.4"/>
<path d="M1656.8,161.8 L1666.3,180.4 L1647.3,180.4 Z" fill="#fff" stroke="#000" stroke-width="4.3" stroke-linejoin="round"/>
<text transform="translate(1688,182.0) scale(1.0,1.044)" font-size="35.5" xml:space="preserve">Day3</text>
</svg>
</body></html>
